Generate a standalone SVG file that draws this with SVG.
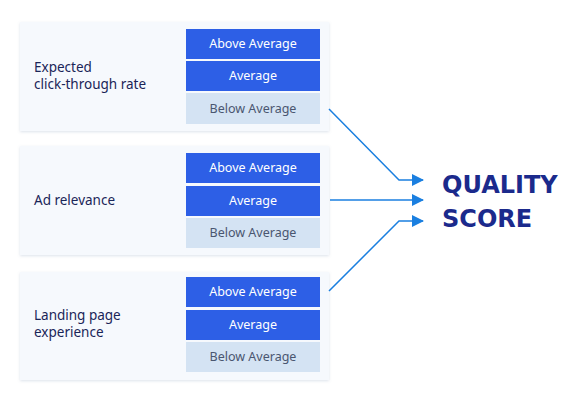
<svg xmlns="http://www.w3.org/2000/svg" width="580" height="400" viewBox="0 0 580 400">
<defs>
<filter id="sh" x="-10%" y="-10%" width="120%" height="130%">
<feDropShadow dx="0" dy="1" stdDeviation="1.5" flood-color="#8aa0c0" flood-opacity="0.3"/>
</filter>
<marker id="ah" viewBox="0 0 12 12" refX="11" refY="6" markerWidth="12" markerHeight="12" markerUnits="userSpaceOnUse" orient="auto">
<path d="M0,0 L12,6 L0,12 Z" fill="#1a7fe0"/>
</marker>
</defs>
<style>
.panel{fill:#f6f9fd;filter:url(#sh)}
.hi{fill:#2d5fe6}
.lo{fill:#d4e3f3}
.lbl{font-family:"Noto Sans","Liberation Sans",sans-serif;font-size:13.5px;fill:#1a2558}
.bt{font-family:"Noto Sans","Liberation Sans",sans-serif;font-size:12.5px;text-anchor:middle}
.w{fill:#ffffff}
.g{fill:#4a5670}
.qs{font-family:"DejaVu Sans","Noto Sans",sans-serif;font-weight:bold;font-size:24px;fill:#1b2a8c}
.conn{fill:none;stroke:#1a7fe0;stroke-width:1.5}
</style>
<rect width="580" height="400" fill="#ffffff"/>
<g id="ctr">
<rect class="panel" x="20" y="22" width="309" height="109"/>
<text class="lbl" x="34" y="72">Expected</text>
<text class="lbl" x="34" y="89">click-through rate</text>
<rect class="hi" x="186" y="29" width="134" height="30"/>
<text class="bt w" x="253" y="48">Above Average</text>
<rect class="hi" x="186" y="61" width="134" height="30"/>
<text class="bt w" x="253" y="80">Average</text>
<rect class="lo" x="186" y="93" width="134" height="31"/>
<text class="bt g" x="253" y="113">Below Average</text>
</g>
<g id="relevance">
<rect class="panel" x="20" y="146" width="309" height="109"/>
<text class="lbl" x="34" y="205">Ad relevance</text>
<rect class="hi" x="186" y="153" width="134" height="30"/>
<text class="bt w" x="253" y="172">Above Average</text>
<rect class="hi" x="186" y="186" width="134" height="30"/>
<text class="bt w" x="253" y="205">Average</text>
<rect class="lo" x="186" y="218" width="134" height="30"/>
<text class="bt g" x="253" y="237">Below Average</text>
</g>
<g id="landing">
<rect class="panel" x="20" y="272" width="309" height="108"/>
<text class="lbl" x="34" y="320">Landing page</text>
<text class="lbl" x="34" y="337">experience</text>
<rect class="hi" x="186" y="277" width="134" height="30"/>
<text class="bt w" x="253" y="296">Above Average</text>
<rect class="hi" x="186" y="310" width="134" height="30"/>
<text class="bt w" x="253" y="329">Average</text>
<rect class="lo" x="186" y="342" width="134" height="30"/>
<text class="bt g" x="253" y="361">Below Average</text>
</g>
<g id="quality">
<text class="qs" x="442" y="193">QUALITY</text>
<text class="qs" x="442" y="227">SCORE</text>
</g>
<g id="connectors">
<path class="conn" d="M329,109 L399,180 L423,180" marker-end="url(#ah)"/>
<path class="conn" d="M330,200 L423,200" marker-end="url(#ah)"/>
<path class="conn" d="M329,291 L399,221 L423,221" marker-end="url(#ah)"/>
</g>
</svg>
